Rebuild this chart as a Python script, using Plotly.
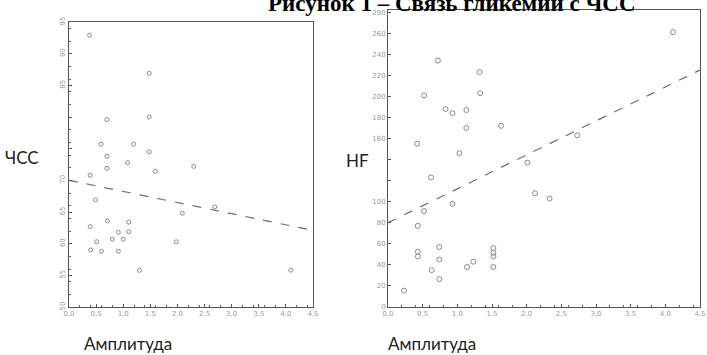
import plotly.graph_objects as go

# ---- data ----
left_amp = [0.38, 1.48, 0.70, 1.48, 0.59, 1.19, 1.48, 0.70, 1.08, 0.70, 1.59, 0.39, 2.30,
            0.49, 0.39, 0.71, 1.10, 1.10, 0.91, 0.80, 1.00, 0.51, 0.40, 0.60, 0.91, 1.30,
            1.98, 2.09, 2.69, 4.09]
left_hr = [92.9, 86.9, 79.6, 80.0, 75.7, 75.7, 74.5, 73.8, 72.8, 71.9, 71.4, 70.8, 72.2,
           66.9, 62.7, 63.6, 63.4, 61.9, 61.8, 60.7, 60.7, 60.3, 59.0, 58.8, 58.8, 55.8,
           60.3, 64.8, 65.8, 55.8]
left_fit_x = [0.0, 4.5]
left_fit_y = [70.0, 62.1]

right_amp = [0.72, 1.32, 0.52, 1.33, 0.83, 0.93, 1.13, 1.13, 1.63, 0.42, 1.03, 0.62,
             0.52, 0.93, 0.43, 0.43, 0.43, 0.74, 0.74, 0.63, 0.74, 1.14, 1.23, 1.52,
             1.52, 1.52, 1.52, 0.23, 4.11, 2.73, 2.01, 2.12, 2.33]
right_hf = [234, 223, 201, 203, 188, 184, 187, 170, 172, 155, 146, 123,
            91, 98, 77, 52.5, 48, 57, 45, 35, 26.5, 38, 43, 56,
            51.5, 48, 38, 15.5, 261, 163, 137, 108, 103]
right_fit_x = [0.0, 4.5]
right_fit_y = [80, 225]

x_tickvals = [0.0, 0.5, 1.0, 1.5, 2.0, 2.5, 3.0, 3.5, 4.0, 4.5]
x_ticktext = ["0,0", "0,5", "1,0", "1,5", "2,0", "2,5", "3,0", "3,5", "4,0", "4,5"]
left_y_tickvals = [50, 55, 60, 65, 70, 75, 80, 85, 90, 95]
left_y_ticktext = ["50", "55", "60", "65", "70", "", "", "85", "90", "95"]
right_y_tickvals = [0, 20, 40, 60, 80, 100, 120, 140, 160, 180, 200, 220, 240, 260, 280]
right_y_ticktext = ["0", "20", "40", "60", "80", "100", "", "", "160", "180", "200",
                    "220", "240", "260", "280"]

title_text = "Рисунок 1 – Связь гликемии с ЧСС"

W, H = 707, 355

fig = go.Figure()

marker_style = dict(symbol="circle-open", color="#8a8a8a", line=dict(width=1, color="#8a8a8a"))

fig.add_trace(go.Scatter(x=left_amp, y=left_hr, mode="markers",
                         marker=dict(size=4, **marker_style), xaxis="x", yaxis="y",
                         showlegend=False))
fig.add_trace(go.Scatter(x=left_fit_x, y=left_fit_y, mode="lines",
                         line=dict(color="#6e6e6e", width=1.2, dash="dash"),
                         xaxis="x", yaxis="y", showlegend=False))
fig.add_trace(go.Scatter(x=right_amp, y=right_hf, mode="markers",
                         marker=dict(size=5, **marker_style), xaxis="x2", yaxis="y2",
                         showlegend=False))
fig.add_trace(go.Scatter(x=right_fit_x, y=right_fit_y, mode="lines",
                         line=dict(color="#6e6e6e", width=1.2, dash="dash"),
                         xaxis="x2", yaxis="y2", showlegend=False))

tick_font = dict(family="DejaVu Sans", size=7, color="#9a9a9a")
axis_common = dict(showgrid=False, zeroline=False, showline=True, linecolor="#555555",
                   linewidth=1, mirror=True, ticks="inside", ticklen=3, tickcolor="#555555",
                   tickfont=tick_font, automargin=False,
                   minor=dict(ticks="inside", ticklen=2, tickcolor="#666666", nticks=5))

fig.update_layout(
    width=W, height=H, margin=dict(l=0, r=0, t=0, b=0, autoexpand=False),
    paper_bgcolor="white", plot_bgcolor="white",
    xaxis=dict(domain=[69 / W, 313 / W], range=[0, 4.5], tickvals=x_tickvals,
               ticktext=x_ticktext, anchor="y", **axis_common),
    yaxis=dict(domain=[1 - 307 / H, 1 - 22 / H], range=[50, 95], tickvals=left_y_tickvals,
               ticktext=left_y_ticktext, tickangle=-90, anchor="x", **axis_common),
    xaxis2=dict(domain=[388 / W, 700 / W], range=[0, 4.5], tickvals=x_tickvals,
                ticktext=x_ticktext, anchor="y2", **axis_common),
    yaxis2=dict(domain=[1 - 307 / H, 1 - 10 / H], range=[0, 282], tickvals=right_y_tickvals,
                ticktext=right_y_ticktext, anchor="x2", **axis_common),
)

label_font = dict(family="Lato", size=17, color="#222222")
fig.add_annotation(text="<b>" + title_text + "</b>", x=452 / W, y=1, xref="paper",
                   yref="paper", xanchor="center", yanchor="bottom", yshift=-18,
                   showarrow=False,
                   font=dict(family="Liberation Serif", size=23, color="black"))
for txt, cx, cy in [("ЧСС", 22, 157), ("Амплитуда", 128, 343), ("Амплитуда", 432, 343),
                    ("HF", 357, 160)]:
    fig.add_annotation(text=txt, x=cx / W, y=1 - cy / H, xref="paper", yref="paper",
                       xanchor="center", yanchor="middle", showarrow=False, font=label_font)

fig.write_html("out.html", config={"displayModeBar": False},
               post_script="document.body.style.margin='0';document.body.style.padding='0';")
